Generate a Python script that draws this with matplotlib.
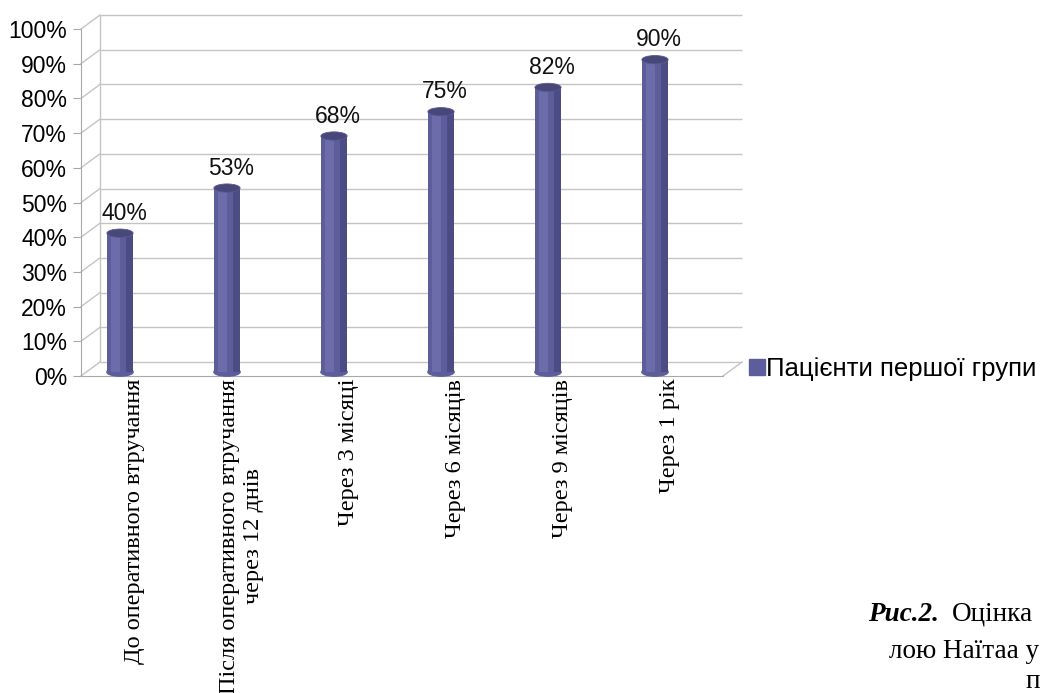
import matplotlib
matplotlib.use("Agg")
import matplotlib.pyplot as plt
from matplotlib.patches import Ellipse, Patch
from matplotlib.transforms import offset_copy

categories = [
    "До оперативного втручання",
    "Після оперативного втручання\nчерез 12 днів",
    "Через 3 місяці",
    "Через 6 місяців",
    "Через 9 місяців",
    "Через 1 рік",
]
values = [40, 53, 68, 75, 82, 90]
series_name = "Пацієнти першої групи"
y_ticks = [0, 10, 20, 30, 40, 50, 60, 70, 80, 90, 100]
y_tick_labels = ["%d%%" % t for t in y_ticks]

W, H = 1042, 693
fig = plt.figure(figsize=(W / 100, H / 100), dpi=100)

# front plane of the pseudo-3d chart
x0, x1, y0, y1 = 81, 723, 376, 29
ax = fig.add_axes([x0 / W, 1 - y0 / H, (x1 - x0) / W, (y0 - y1) / H])
ax.set_xlim(-0.5, len(categories) - 0.5)
ax.set_ylim(0, 100)
ax.patch.set_alpha(0)

axis_col = "#a8a8a8"
grid_col = "#c4c4c4"
for s in ["top", "right"]:
    ax.spines[s].set_visible(False)
ax.spines["left"].set_color(axis_col)
ax.spines["bottom"].set_color(axis_col)

# back wall, shifted up and right
back = offset_copy(ax.transData, fig=fig, x=19, y=14, units="dots")
ax.hlines(y_ticks, -0.5, len(categories) - 0.5, colors=grid_col, lw=1,
          transform=back, clip_on=False)
ax.vlines([-0.5], 0, 100, colors=grid_col, lw=1, transform=back, clip_on=False)

# short diagonals joining front axis and back wall
xl, xr = -0.5, len(categories) - 0.5
for t in y_ticks:
    p_front = ax.transData.transform((xl, t))
    p_back = back.transform((xl, t))
    ax.plot([p_front[0], p_back[0]], [p_front[1], p_back[1]], color=grid_col,
            lw=1, transform=None, clip_on=False)
p_front = ax.transData.transform((xr, 0))
p_back = back.transform((xr, 0))
ax.plot([p_front[0], p_back[0]], [p_front[1], p_back[1]], color=grid_col,
        lw=1, transform=None, clip_on=False)

# cylinders
bar_tr = offset_copy(ax.transData, fig=fig, x=-14.5, y=4, units="dots")
bw = 0.245
eh = 2.4
body = "#5d5d9b"
light = "#6c6cab"
dark = "#4c4c84"
top_col = "#474779"
xs = list(range(len(categories)))
ax.bar(xs, values, width=bw, color=body, transform=bar_tr, zorder=3, clip_on=False)
ax.bar([x - bw * 0.18 for x in xs], values, width=bw * 0.35, color=light,
       transform=bar_tr, zorder=3, clip_on=False)
ax.bar([x + bw * 0.36 for x in xs], values, width=bw * 0.28, color=dark,
       transform=bar_tr, zorder=3, clip_on=False)
for x, v in zip(xs, values):
    ax.add_patch(Ellipse((x, 0), bw, eh, color=body, transform=bar_tr,
                         zorder=2.9, clip_on=False))
    ax.add_patch(Ellipse((x, v), bw, eh, facecolor=top_col, edgecolor="#5a5a90",
                         lw=0.6, transform=bar_tr, zorder=4, clip_on=False))
    ax.annotate("%d%%" % v, (x, v), xytext=(3, 6), textcoords="offset points",
                xycoords=bar_tr, ha="center", va="bottom", fontsize=16.5,
                family="Liberation Sans", color="#111111")

ax.set_yticks(y_ticks)
ax.set_yticklabels(y_tick_labels, fontsize=16.5, family="Liberation Sans")
ax.tick_params(axis="y", length=6, color=axis_col, pad=4)
ax.set_xticks(xs)
ax.set_xticklabels(categories, rotation=90, fontsize=17.5, family="Liberation Serif",
                   va="top", ha="center")
for t in ax.get_xticklabels():
    t.set_multialignment("center")
ax.tick_params(axis="x", length=0, pad=2)

ax.legend(handles=[Patch(color=body, label=series_name)], loc="center left",
          bbox_to_anchor=(749 / W, 1 - 369 / H), bbox_transform=fig.transFigure,
          frameon=False, handlelength=0.62, handleheight=0.62, handletextpad=0.05,
          borderaxespad=0, borderpad=0,
          prop={"family": "Liberation Sans", "size": 18.5})

# caption fragment at bottom right
cap = {"fontsize": 19.5, "family": "Liberation Serif"}
fig.text(868 / W, 1 - 621 / H, "Рис.2.", weight="bold", style="italic", **cap)
fig.text(952 / W, 1 - 621 / H, "Оцінка", **cap)
fig.text(889 / W, 1 - 658 / H, "лою Наїтаа у", **cap)
fig.text(1026 / W, 1 - 688 / H, "п", **cap)

fig.savefig("out.png", dpi=100)
